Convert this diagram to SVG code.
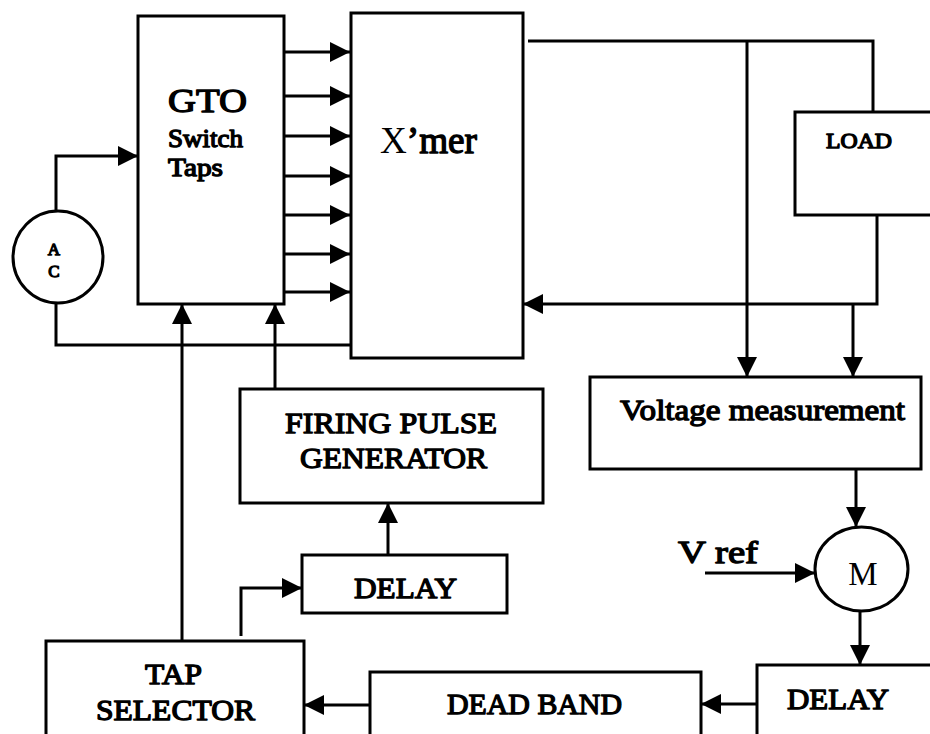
<svg xmlns="http://www.w3.org/2000/svg" width="930" height="734" viewBox="0 0 930 734">
<defs>
<marker id="ah" viewBox="0 0 20 20" refX="20" refY="10" markerWidth="20" markerHeight="20" markerUnits="userSpaceOnUse" orient="auto">
<path d="M0,0 L20,10 L0,20 z" fill="#000"/>
</marker>
<style>
.box{fill:#fff;stroke:#000;stroke-width:3}
.ln{fill:none;stroke:#000;stroke-width:3}
.ar{fill:none;stroke:#000;stroke-width:3;marker-end:url(#ah)}
.t{font-family:'Liberation Serif','Times New Roman',serif;font-weight:normal;fill:#000;stroke:#000;stroke-width:1.3;stroke-linejoin:round}
.r{font-family:'Liberation Serif','Times New Roman',serif;font-weight:normal;fill:#000}
</style>
</defs>
<rect width="930" height="734" fill="#fff"/>
<g id="connectors">
<path class="ar" d="M284,52 H350"/>
<path class="ar" d="M284,96 H350"/>
<path class="ar" d="M284,136 H350"/>
<path class="ar" d="M284,176 H350"/>
<path class="ar" d="M284,215 H350"/>
<path class="ar" d="M284,254 H350"/>
<path class="ar" d="M284,292 H350"/>
<path class="ar" d="M56,211 V156 H138"/>
<path class="ln" d="M56,304 V345 H351"/>
<path class="ar" d="M182,641 V304"/>
<path class="ar" d="M275,389 V304"/>
<path class="ar" d="M388,555 V503"/>
<path class="ar" d="M241,636 V588 H302"/>
<path class="ln" d="M528,41 H873 V112"/>
<path class="ar" d="M747,41 V377"/>
<path class="ar" d="M877,215 V304 H523"/>
<path class="ar" d="M853,304 V377"/>
<path class="ar" d="M856,469 V527"/>
<path class="ar" d="M705,573 H815"/>
<path class="ar" d="M860,611 V665"/>
<path class="ar" d="M757,704 H701"/>
<path class="ar" d="M370,705 H304"/>
</g>
<g id="gto">
<rect class="box" x="138" y="16" width="146" height="288"/>
<text class="t" x="168" y="112" font-size="33" textLength="79" lengthAdjust="spacingAndGlyphs">GTO</text>
<text class="t" x="168" y="147" font-size="25" stroke-width="1" textLength="75" lengthAdjust="spacingAndGlyphs">Switch</text>
<text class="t" x="168" y="176" font-size="25" stroke-width="1" textLength="55" lengthAdjust="spacingAndGlyphs">Taps</text>
</g>
<g id="xmer">
<rect class="box" x="351" y="13" width="172" height="345"/>
<text class="t" x="380" y="153" font-size="37" stroke-width="1.6" textLength="97" lengthAdjust="spacingAndGlyphs"><tspan stroke="none">X</tspan>’mer</text>
</g>
<g id="load">
<rect class="box" x="795" y="112" width="150" height="103"/>
<text class="t" x="826" y="148" font-size="21" stroke-width="0.9" textLength="66" lengthAdjust="spacingAndGlyphs">LOAD</text>
</g>
<g id="ac">
<ellipse class="box" cx="58" cy="257" rx="45" ry="46"/>
<text class="t" x="54" y="255" font-size="17" stroke-width="0.8" text-anchor="middle">A</text>
<text class="t" x="54" y="277" font-size="17" stroke-width="0.8" text-anchor="middle">C</text>
</g>
<g id="voltage-measurement">
<rect class="box" x="590" y="377" width="331" height="92"/>
<text class="t" x="620" y="420" font-size="29" textLength="285" lengthAdjust="spacingAndGlyphs">Voltage measurement</text>
</g>
<g id="m">
<ellipse class="box" cx="861.5" cy="569" rx="46.5" ry="42"/>
<text class="r" x="863" y="585" font-size="33" text-anchor="middle">M</text>
</g>
<g id="vref">
<text class="t" x="678" y="563" font-size="32" stroke-width="1.4" textLength="80" lengthAdjust="spacingAndGlyphs">V ref</text>
</g>
<g id="delay-right">
<rect class="box" x="757" y="665" width="200" height="100"/>
<text class="t" x="787" y="709" font-size="29" textLength="102" lengthAdjust="spacingAndGlyphs">DELAY</text>
</g>
<g id="dead-band">
<rect class="box" x="370" y="672" width="331" height="100"/>
<text class="t" x="447" y="714" font-size="29" textLength="175" lengthAdjust="spacingAndGlyphs">DEAD BAND</text>
</g>
<g id="tap-selector">
<rect class="box" x="46" y="641" width="258" height="100"/>
<text class="t" x="145" y="684" font-size="29" textLength="57" lengthAdjust="spacingAndGlyphs">TAP</text>
<text class="t" x="96" y="720" font-size="29" textLength="159" lengthAdjust="spacingAndGlyphs">SELECTOR</text>
</g>
<g id="delay-mid">
<rect class="box" x="302" y="555" width="205" height="58"/>
<text class="t" x="354" y="598" font-size="29" textLength="103" lengthAdjust="spacingAndGlyphs">DELAY</text>
</g>
<g id="firing-pulse">
<rect class="box" x="240" y="389" width="303" height="114"/>
<text class="t" x="285" y="433" font-size="29" textLength="212" lengthAdjust="spacingAndGlyphs">FIRING PULSE</text>
<text class="t" x="300" y="468" font-size="29" textLength="187" lengthAdjust="spacingAndGlyphs">GENERATOR</text>
</g>
</svg>
